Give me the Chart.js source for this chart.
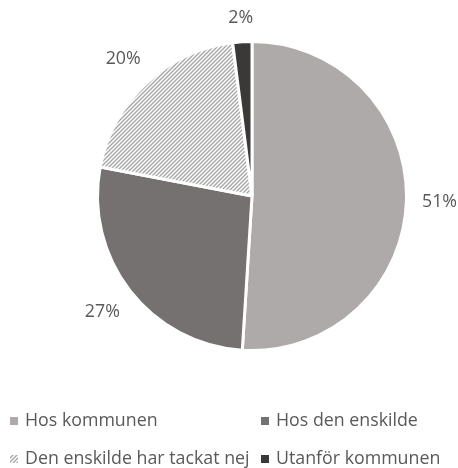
<!DOCTYPE html>
<html>
<head>
<meta charset="utf-8">
<script src="https://cdn.jsdelivr.net/npm/chart.js@4.4.1/dist/chart.umd.min.js"></script>
<style>
  html, body { margin: 0; padding: 0; background: #fff; }
</style>
</head>
<body>
<canvas id="chart" width="458" height="468"></canvas>
<script>
// data
const categories = ['Hos kommunen', 'Hos den enskilde', 'Den enskilde har tackat nej', 'Utanför kommunen'];
const shares = [51, 27, 20, 2];

const sliceColors = ['#aeaaaa', '#767171', 'hatch', '#3b3838'];
const textColor = '#595959';
const font = '17.8px "Open Sans", sans-serif';

function makeHatch() {
    const c = document.createElement('canvas');
    c.width = 4; c.height = 4;
    const g = c.getContext('2d');
    g.fillStyle = '#ffffff';
    g.fillRect(0, 0, 4, 4);
    g.strokeStyle = '#a6a6a6';
    g.lineWidth = 1.4;
    g.beginPath();
    g.moveTo(-1, 5); g.lineTo(5, -1);
    g.moveTo(-1, 1); g.lineTo(1, -1);
    g.moveTo(3, 5); g.lineTo(5, 3);
    g.stroke();
    return c;
}

const ctx = document.getElementById('chart').getContext('2d');
const hatch = ctx.createPattern(makeHatch(), 'repeat');
const bg = sliceColors.map(c => c === 'hatch' ? hatch : c);

// percentage labels just outside each slice
const outsideLabels = {
    id: 'outsideLabels',
    afterDatasetsDraw(chart) {
        const c = chart.ctx;
        const meta = chart.getDatasetMeta(0);
        c.save();
        c.font = font;
        c.fillStyle = textColor;
        c.textAlign = 'center';
        c.textBaseline = 'middle';
        meta.data.forEach((arc, i) => {
            const p = arc.getProps(['x', 'y', 'startAngle', 'endAngle', 'outerRadius'], true);
            const mid = (p.startAngle + p.endAngle) / 2;
            const txt = shares[i] + '%';
            const w = c.measureText(txt).width;
            const cos = Math.cos(mid), sin = Math.sin(mid);
            const d = p.outerRadius + 18 + Math.abs(cos) * w / 2 + Math.abs(sin) * 5;
            // keep the label inside the canvas
            let x = p.x + cos * d;
            x = Math.min(Math.max(x, w / 2 + 1), chart.width - w / 2 - 1);
            c.fillText(txt, x, p.y + sin * d);
        });
        c.restore();
    }
};

// two-column legend under the pie
const gridLegend = {
    id: 'gridLegend',
    afterDraw(chart) {
        const c = chart.ctx;
        const cols = [14, 265];
        const rows = [421, 459];
        c.save();
        c.font = font;
        c.textBaseline = 'middle';
        c.textAlign = 'left';
        categories.forEach((name, i) => {
            const x = cols[i % 2];
            const y = rows[Math.floor(i / 2)];
            c.fillStyle = bg[i];
            c.fillRect(x - 4, y - 4, 8, 8);
            c.fillStyle = textColor;
            c.fillText(name, x + 11, y);
        });
        c.restore();
    }
};

new Chart(ctx, {
    type: 'pie',
    data: {
        labels: categories,
        datasets: [{
            data: shares,
            backgroundColor: bg,
            borderColor: '#ffffff',
            borderWidth: 3
        }]
    },
    options: {
        responsive: false,
        animation: false,
        layout: { padding: { top: 40, bottom: 116, left: 96, right: 50 } },
        plugins: {
            legend: { display: false },
            tooltip: { enabled: false }
        }
    },
    plugins: [outsideLabels, gridLegend]
});
</script>
</body>
</html>
